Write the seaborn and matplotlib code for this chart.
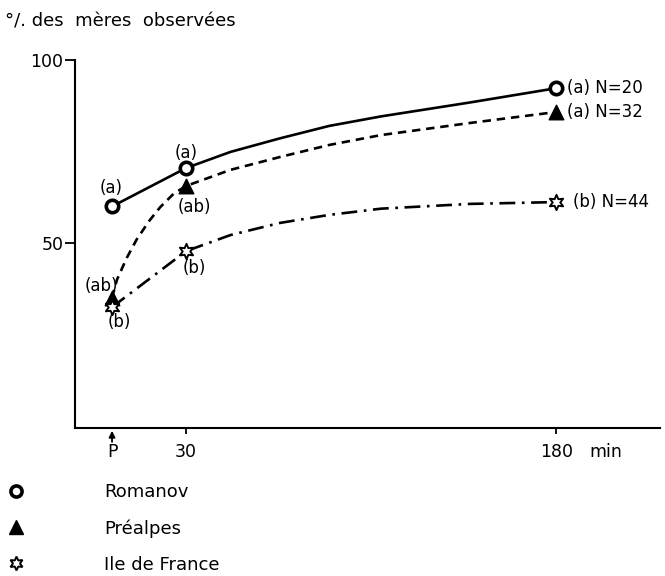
import matplotlib
matplotlib.use("Agg")
import matplotlib.pyplot as plt
import seaborn as sns
from matplotlib.lines import Line2D

# ---- data ----
time_labels = ["P", "30", "180"]
time_points = [0, 30, 180]
romanov = [60, 70.5, 92.3]
prealpes = [35, 65.6, 85.8]
idf = [32.5, 47.8, 61.2]

romanov_letters = ["(a)", "(a)", "(a) N=20"]
prealpes_letters = ["(ab)", "(ab)", "(a) N=32"]
idf_letters = ["(b)", "(b)", "(b) N=44"]

# hand-drawn curve traces
romanov_curve_t = [0, 30, 48, 68, 88, 109, 145, 180]
romanov_curve_v = [60, 70.5, 74.9, 78.6, 82.0, 84.6, 88.4, 92.3]
prealpes_curve_t = [0, 2, 6, 10, 15, 19.5, 25, 30, 48, 68, 88, 109, 145, 180]
prealpes_curve_v = [35, 40, 46, 51, 56, 59.8, 63.5, 65.6, 70, 73.5, 76.8, 79.5, 82.8, 85.8]
idf_curve_t = [0, 30, 48, 68, 88, 109, 145, 180]
idf_curve_v = [32.5, 47.8, 52.2, 55.5, 57.7, 59.4, 60.7, 61.2]

breeds = ["Romanov", "Préalpes", "Ile de France"]

sns.set_style("white")
plt.rcParams["font.family"] = ["DejaVu Sans"]
plt.rcParams["text.color"] = "black"
plt.rcParams["xtick.color"] = "black"
plt.rcParams["ytick.color"] = "black"
plt.rcParams["axes.labelcolor"] = "black"

fig = plt.figure(figsize=(6.65, 5.76), dpi=100)
ax = fig.add_axes([75/665, 1-428/576, 585/665, 368/576])

lw = 1.9
sns.lineplot(x=romanov_curve_t, y=romanov_curve_v, ax=ax, color="black", lw=lw,
             linestyle="-", estimator=None, sort=False)
sns.lineplot(x=prealpes_curve_t, y=prealpes_curve_v, ax=ax, color="black", lw=lw,
             linestyle=(0, (3.2, 2.2)), estimator=None, sort=False)
sns.lineplot(x=idf_curve_t, y=idf_curve_v, ax=ax, color="black", lw=lw,
             linestyle=(0, (6, 2.5, 1, 2.5)), estimator=None, sort=False)

star = (6, 1, 0)
mk = {
    "Romanov": dict(marker="o", s=80, facecolor="white", edgecolor="black", linewidth=2.6),
    "Préalpes": dict(marker="^", s=110, facecolor="black", edgecolor="black", linewidth=1),
    "Ile de France": dict(marker=star, s=120, facecolor="white", edgecolor="black", linewidth=1.4),
}
for name, vals in zip(breeds, [romanov, prealpes, idf]):
    sns.scatterplot(x=time_points, y=vals, ax=ax, zorder=5, clip_on=False, **mk[name])

fs = 12
def ann(txt, x, y, dx, dy, ha="center"):
    ax.annotate(txt, xy=(x, y), xytext=(dx, dy), textcoords="offset points",
                ha=ha, va="center", fontsize=fs, annotation_clip=False)

ann(romanov_letters[0], time_points[0], romanov[0], -1, 13)
ann(romanov_letters[1], time_points[1], romanov[1], 0, 11)
ann(romanov_letters[2], time_points[2], romanov[2], 8, 0, ha="left")
ann(prealpes_letters[0], time_points[0], prealpes[0], -8, 9)
ann(prealpes_letters[1], time_points[1], prealpes[1], 6, -15)
ann(prealpes_letters[2], time_points[2], prealpes[2], 8, 0, ha="left")
ann(idf_letters[0], time_points[0], idf[0], 5, -11)
ann(idf_letters[1], time_points[1], idf[1], 6, -12)
ann(idf_letters[2], time_points[2], idf[2], 12, 0, ha="left")

ax.set_xlim(-15, 222)
ax.set_ylim(-0.5, 100)
for s in ["top", "right"]:
    ax.spines[s].set_visible(False)
for s in ["left", "bottom"]:
    ax.spines[s].set_linewidth(1.5)
    ax.spines[s].set_color("black")

ax.set_yticks([50, 100])
ax.set_yticklabels(["50", "100"], fontsize=12.5)
ax.tick_params(axis="y", direction="out", length=7, width=1.3, pad=1.5, left=True)
ax.set_xticks(time_points)
ax.set_xticklabels(time_labels, fontsize=12.5)
ax.tick_params(axis="x", direction="out", length=4, width=1.3, pad=7, bottom=True)
ax.xaxis.get_major_ticks()[0].tick1line.set_visible(False)

ax.annotate("", xy=(0, 0), xycoords=("data", "axes fraction"), xytext=(0, -12),
            textcoords="offset points",
            arrowprops=dict(arrowstyle="-|>", color="black", lw=1.3, mutation_scale=9),
            annotation_clip=False)
ax.annotate("min", xy=(200, 0), xycoords=("data", "axes fraction"), xytext=(0, -11),
            textcoords="offset points", ha="center", va="top", fontsize=12.5)

fig.text(5/665, 1-22/576, "°/. des  mères  observées", fontsize=13, ha="left", va="center")

handles = [
    Line2D([], [], linestyle="none", marker="o", markersize=8, mfc="white", mec="black", mew=2.6),
    Line2D([], [], linestyle="none", marker="^", markersize=10, mfc="black", mec="black"),
    Line2D([], [], linestyle="none", marker=star, markersize=10, mfc="white", mec="black", mew=1.4),
]
ax.legend(handles, breeds, loc="upper left", bbox_to_anchor=(5/665, 1-483/576),
          bbox_transform=fig.transFigure, frameon=False, fontsize=13,
          handlelength=1.2, handletextpad=4.3, labelspacing=1.0, borderpad=0,
          borderaxespad=0)

fig.savefig("out.png", dpi=100)
